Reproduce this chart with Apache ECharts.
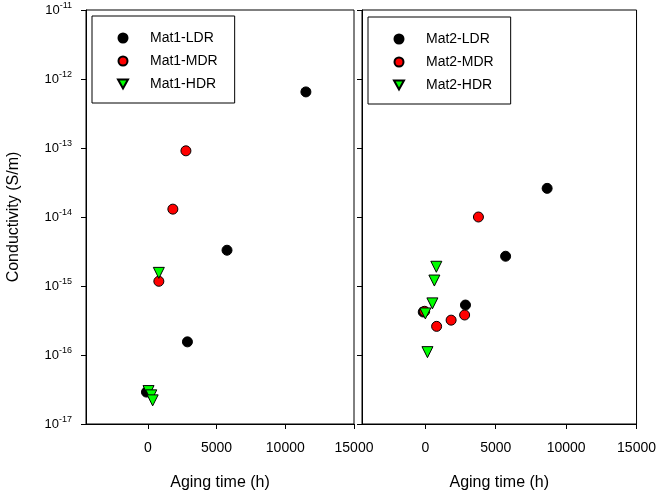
<!DOCTYPE html>
<html>
<head>
<meta charset="utf-8">
<script src="https://cdn.jsdelivr.net/npm/echarts@6/dist/echarts.min.js"></script>
<style>
  html, body { margin: 0; padding: 0; background: #fff; }
  #chart { width: 659px; height: 499px; }
</style>
</head>
<body>
<div id="chart"></div>
<script>
  // tick labels
  const xTicks = [0, 5000, 10000, 15000]
  const yTicks = [1e-17, 1e-16, 1e-15, 1e-14, 1e-13, 1e-12, 1e-11]

  // Mat1 (left panel)
  const ldr1X = [-100, 2880, 5760, 11500]
  const ldr1Y = [2.9e-17, 1.55e-16, 3.3e-15, 6.5e-13]
  const mdr1X = [800, 1820, 2770]
  const mdr1Y = [1.17e-15, 1.3e-14, 9.1e-14]
  const hdr1X = [50, 250, 350, 800]
  const hdr1Y = [3.0e-17, 2.6e-17, 2.2e-17, 1.55e-15]

  // Mat2 (right panel)
  const ldr2X = [-150, 2850, 5700, 8650]
  const ldr2Y = [4.2e-16, 5.3e-16, 2.7e-15, 2.6e-14]
  const mdr2X = [-50, 800, 1830, 2790, 3770]
  const mdr2Y = [4.3e-16, 2.6e-16, 3.2e-16, 3.8e-16, 1.0e-14]
  const hdr2X = [0, 150, 500, 640, 780]
  const hdr2Y = [4.0e-16, 1.1e-16, 5.6e-16, 1.2e-15, 1.9e-15]

  const font = 'Liberation Sans, Arial, sans-serif'
  const downTriangle = 'path://M0,0 L10,0 L5,9 Z'

  function pairs(xs, ys) {
    return xs.map((x, i) => [x, ys[i]])
  }

  function xAxisFor(idx) {
    return {
      type: 'value',
      gridIndex: idx,
      min: -4500,
      max: 15000,
      name: 'Aging time (h)',
      nameLocation: 'middle',
      nameGap: 51,
      nameTextStyle: { color: '#000', fontSize: 16, fontFamily: font },
      axisLine: { show: true, onZero: false, lineStyle: { color: '#000', width: 1 } },
      axisTick: { show: true, inside: false, length: 5, customValues: xTicks, lineStyle: { color: '#000' } },
      axisLabel: {
        show: true, margin: 17, customValues: xTicks, color: '#000', fontSize: 14, fontFamily: font,
        formatter: function (v) { return String(v) }
      },
      splitLine: { show: false }
    }
  }

  function yAxisFor(idx, withLabels) {
    return {
      type: 'log',
      logBase: 10,
      gridIndex: idx,
      min: 1e-17,
      max: 1e-11,
      name: withLabels ? 'Conductivity (S/m)' : '',
      nameLocation: 'middle',
      nameGap: 64,
      nameTextStyle: { color: '#000', fontSize: 16, fontFamily: font },
      axisLine: { show: true, onZero: false, lineStyle: { color: '#000', width: 1 } },
      axisTick: { show: true, inside: false, length: 5, customValues: yTicks, lineStyle: { color: '#000' } },
      minorTick: { show: false },
      axisLabel: {
        show: withLabels,
        margin: 14,
        customValues: yTicks,
        formatter: function (v) {
          const e = Math.round(Math.log10(v))
          return '{b|10}{s|' + e + '}'
        },
        rich: {
          b: { color: '#000', fontSize: 13, fontFamily: font },
          s: { color: '#000', fontSize: 9, fontFamily: font, verticalAlign: 'top', padding: [0, 0, 8, 0] }
        }
      },
      splitLine: { show: false }
    }
  }

  function scatter(name, data, idx, kind) {
    const s = {
      name: name,
      type: 'scatter',
      xAxisIndex: idx,
      yAxisIndex: idx,
      data: data,
      symbol: 'circle',
      symbolSize: 10,
      itemStyle: { color: '#000', borderColor: '#000', borderWidth: 1, opacity: 1 },
      emphasis: { disabled: true }
    }
    if (kind === 'mdr') {
      s.itemStyle.color = '#ff0000'
    }
    if (kind === 'hdr') {
      s.symbol = 'triangle'
      s.symbolRotate = 180
      s.symbolSize = 11
      s.itemStyle.color = '#00ff00'
    }
    return s
  }

  function legendFor(names, left, top) {
    return {
      data: [
        { name: names[0], icon: 'circle' },
        { name: names[1], icon: 'circle' },
        { name: names[2], icon: downTriangle }
      ],
      orient: 'vertical',
      left: left,
      top: top,
      itemWidth: 10,
      itemHeight: 9,
      itemGap: 9,
      padding: [15, 17, 12, 25],
      borderColor: '#000',
      borderWidth: 1,
      backgroundColor: '#fff',
      textStyle: { color: '#000', fontSize: 14, fontFamily: font, padding: [0, 0, 0, 17] },
      selectedMode: false
    }
  }

  let myChart = echarts.init(document.getElementById('chart'))
  myChart.setOption({
    animation: false,
    backgroundColor: '#fff',
    grid: [
      { left: 86, right: 305, top: 10, bottom: 75, show: true, borderColor: '#000', borderWidth: 1, backgroundColor: 'transparent' },
      { left: 362, right: 22, top: 10, bottom: 75, show: true, borderColor: '#000', borderWidth: 1, backgroundColor: 'transparent' }
    ],
    legend: [
      legendFor(['Mat1-LDR', 'Mat1-MDR', 'Mat1-HDR'], 92, 16),
      legendFor(['Mat2-LDR', 'Mat2-MDR', 'Mat2-HDR'], 368, 17)
    ],
    xAxis: [xAxisFor(0), xAxisFor(1)],
    yAxis: [yAxisFor(0, true), yAxisFor(1, false)],
    series: [
      scatter('Mat1-LDR', pairs(ldr1X, ldr1Y), 0, 'ldr'),
      scatter('Mat1-MDR', pairs(mdr1X, mdr1Y), 0, 'mdr'),
      scatter('Mat1-HDR', pairs(hdr1X, hdr1Y), 0, 'hdr'),
      scatter('Mat2-LDR', pairs(ldr2X, ldr2Y), 1, 'ldr'),
      scatter('Mat2-MDR', pairs(mdr2X, mdr2Y), 1, 'mdr'),
      scatter('Mat2-HDR', pairs(hdr2X, hdr2Y), 1, 'hdr')
    ]
  })
</script>
</body>
</html>
